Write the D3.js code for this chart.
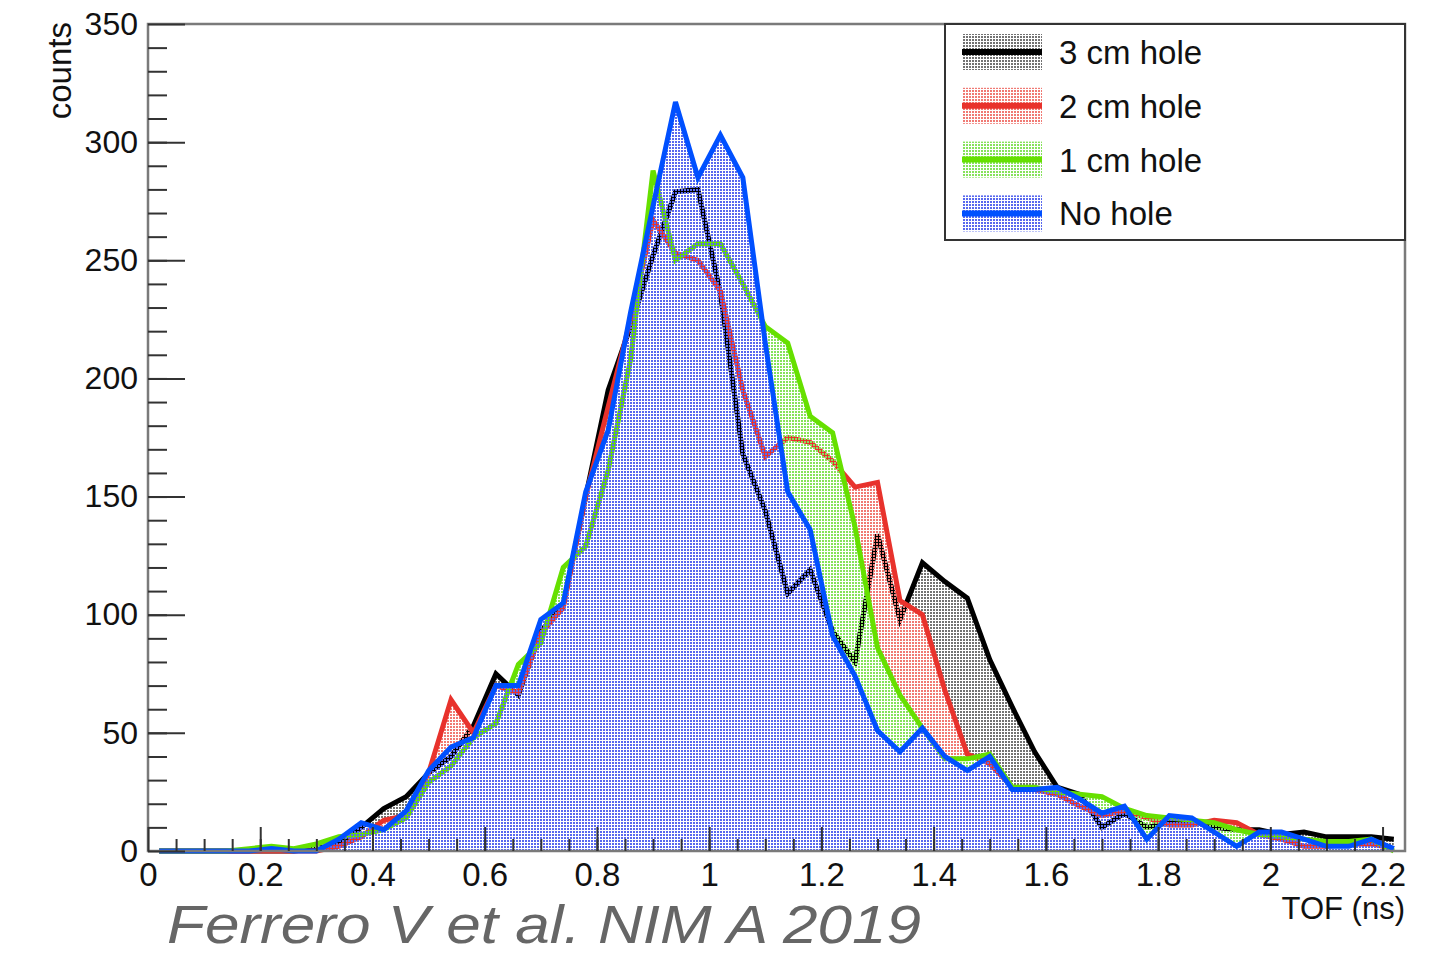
<!DOCTYPE html>
<html>
<head>
<meta charset="utf-8">
<script src="https://cdn.jsdelivr.net/npm/d3@7"></script>
<style>
  body { margin: 0; background: #fff; }
  svg text { font-family: "Liberation Sans", Arial, Helvetica, sans-serif; }
</style>
</head>
<body>
<div id="chart"></div>
<script>
// TOF bin centres (ns), bin width 0.04
const tofBins = [0.02, 0.06, 0.10, 0.14, 0.18, 0.22, 0.26, 0.30, 0.34, 0.38,
  0.42, 0.46, 0.50, 0.54, 0.58, 0.62, 0.66, 0.70, 0.74, 0.78,
  0.82, 0.86, 0.90, 0.94, 0.98, 1.02, 1.06, 1.10, 1.14, 1.18,
  1.22, 1.26, 1.30, 1.34, 1.38, 1.42, 1.46, 1.50, 1.54, 1.58,
  1.62, 1.66, 1.70, 1.74, 1.78, 1.82, 1.86, 1.90, 1.94, 1.98,
  2.02, 2.06, 2.10, 2.14, 2.18, 2.22];

// counts per bin
const hole3cm = [0, 0, 0, 0, 0, 0, 0, 1, 3, 10,
  18, 23, 33, 40, 53, 75, 66, 93, 104, 150,
  195, 222, 252, 279, 280, 236, 168, 144, 109, 119,
  93, 80, 134, 98, 122, 114, 107, 81, 61, 42,
  27, 24, 10, 16, 10, 12, 13, 10, 9, 9,
  7, 8, 6, 6, 6, 5];

const hole2cm = [0, 0, 0, 0, 0, 0, 0, 0, 2, 6,
  13, 15, 33, 64, 50, 70, 67, 92, 103, 150,
  188, 225, 267, 253, 250, 237, 195, 167, 175, 173,
  165, 154, 156, 106, 100, 68, 41, 37, 27, 26,
  24, 19, 15, 17, 14, 11, 11, 13, 12, 7,
  5, 2, 2, 3, 3, 1];

const hole1cm = [0, 0, 0, 0, 1, 2, 1, 3, 6, 7,
  9, 14, 29, 36, 48, 54, 79, 88, 120, 129,
  161, 208, 288, 250, 257, 257, 240, 222, 215, 184,
  177, 137, 86, 66, 52, 39, 39, 41, 27, 27,
  25, 24, 23, 18, 15, 14, 13, 12, 9, 7,
  6, 5, 4, 4, 5, 0];

const noHole = [0, 0, 0, 0, 0, 1, 0, 0, 5, 12,
  9, 17, 34, 44, 48, 70, 70, 98, 105, 152,
  178, 228, 273, 317, 285, 303, 285, 215, 152, 136,
  91, 74, 51, 42, 52, 40, 34, 40, 26, 26,
  27, 22, 16, 19, 5, 15, 14, 8, 2, 8,
  8, 5, 2, 2, 5, 1];

const seriesNames = ['3 cm hole', '2 cm hole', '1 cm hole', 'No hole'];
const xTickValues = [0, 0.2, 0.4, 0.6, 0.8, 1, 1.2, 1.4, 1.6, 1.8, 2, 2.2];
const yTickValues = [0, 50, 100, 150, 200, 250, 300, 350];

const width = 1430;
const height = 954;
const marginTop = 24;
const marginRight = 25;
const marginBottom = 103;
const marginLeft = 148;

const series = [
  { name: seriesNames[0], values: hole3cm, line: '#000000', dot: '#727272', id: 'pat-black' },
  { name: seriesNames[1], values: hole2cm, line: '#e8322c', dot: '#f07a74', id: 'pat-red' },
  { name: seriesNames[2], values: hole1cm, line: '#66e000', dot: '#86e25a', id: 'pat-green' },
  { name: seriesNames[3], values: noHole, line: '#0050ff', dot: '#5868ee', id: 'pat-blue' }
];

const x = d3.scaleLinear()
  .domain([0, 2.24])
  .range([marginLeft, width - marginRight]);

const y = d3.scaleLinear()
  .domain([0, 350])
  .range([height - marginBottom, marginTop]);

const svg = d3.select('#chart')
  .append('svg')
  .attr('width', width)
  .attr('height', height);

// Dotted fill patterns (same grid for all, so overlaps look like the top one)
const defs = svg.append('defs');
series.forEach(s => {
  const p = defs.append('pattern')
    .attr('id', s.id)
    .attr('patternUnits', 'userSpaceOnUse')
    .attr('width', 3)
    .attr('height', 3);
  p.append('rect')
    .attr('width', 2)
    .attr('height', 2)
    .attr('fill', s.dot);
});

// Histograms, drawn in order like ROOT "same"
const area = d3.area()
  .x((d, i) => x(tofBins[i]))
  .y0(y(0))
  .y1(d => y(d));

const line = d3.line()
  .x((d, i) => x(tofBins[i]))
  .y(d => y(d));

series.forEach(s => {
  svg.append('path')
    .attr('d', area(s.values))
    .attr('fill', `url(#${s.id})`);
  svg.append('path')
    .attr('d', line(s.values))
    .attr('fill', 'none')
    .attr('stroke', s.line)
    .attr('stroke-width', 5)
    .attr('stroke-linejoin', 'miter');
});

// Frame
svg.append('rect')
  .attr('x', x(0))
  .attr('y', y(350))
  .attr('width', x(2.24) - x(0))
  .attr('height', y(0) - y(350))
  .attr('fill', 'none')
  .attr('stroke', '#7a7a7a')
  .attr('stroke-width', 2.5);

// Add X axis (ticks pointing inside)
const xAxis = svg.append('g')
  .attr('transform', `translate(0,${y(0)})`)
  .call(d3.axisBottom(x).tickValues(xTickValues).tickSize(-24).tickPadding(12).tickFormat(d3.format('~g')));
xAxis.select('.domain').remove();

svg.append('g')
  .attr('transform', `translate(0,${y(0)})`)
  .call(d3.axisBottom(x).tickValues(d3.range(0.05, 2.24, 0.05)).tickSize(-12).tickFormat(''))
  .select('.domain').remove();

// Add Y axis
const yAxis = svg.append('g')
  .attr('transform', `translate(${x(0)},0)`)
  .call(d3.axisLeft(y).tickValues(yTickValues).tickSize(-37).tickPadding(10));
yAxis.select('.domain').remove();

svg.append('g')
  .attr('transform', `translate(${x(0)},0)`)
  .call(d3.axisLeft(y).tickValues(d3.range(10, 350, 10)).tickSize(-19).tickFormat(''))
  .select('.domain').remove();

svg.selectAll('.tick line')
  .attr('stroke', '#333')
  .attr('stroke-width', 2);

xAxis.selectAll('text')
  .attr('fill', '#111')
  .style('font-size', '33px');

yAxis.selectAll('text')
  .attr('fill', '#111')
  .style('font-size', '32px');

// Add X axis label
svg.append('text')
  .attr('x', width - marginRight)
  .attr('y', 919)
  .style('text-anchor', 'end')
  .style('font-size', '31px')
  .attr('fill', '#111')
  .text('TOF (ns)');

// Add Y axis label
svg.append('text')
  .attr('transform', 'rotate(-90)')
  .attr('x', -22)
  .attr('y', 71)
  .style('text-anchor', 'end')
  .style('font-size', '33px')
  .attr('fill', '#111')
  .text('counts');

// Legend
const legend = svg.append('g');
legend.append('rect')
  .attr('x', 945)
  .attr('y', 24)
  .attr('width', 460)
  .attr('height', 216)
  .attr('fill', '#fff')
  .attr('stroke', '#333')
  .attr('stroke-width', 2);

series.forEach((s, i) => {
  const cy = 52 + i * 53.8;
  legend.append('rect')
    .attr('x', 962)
    .attr('y', cy - 18)
    .attr('width', 80)
    .attr('height', 36)
    .attr('fill', `url(#${s.id})`);
  legend.append('line')
    .attr('x1', 962)
    .attr('x2', 1042)
    .attr('y1', cy)
    .attr('y2', cy)
    .attr('stroke', s.line)
    .attr('stroke-width', 6);
  legend.append('text')
    .attr('x', 1059)
    .attr('y', cy + 12)
    .style('font-size', '33px')
    .attr('fill', '#111')
    .text(s.name);
});

// Citation
svg.append('text')
  .attr('x', 167)
  .attr('y', 942.5)
  .attr('textLength', 754)
  .attr('lengthAdjust', 'spacingAndGlyphs')
  .style('font-size', '53px')
  .style('font-style', 'italic')
  .attr('fill', '#666')
  .text('Ferrero V et al. NIM A 2019');
</script>
</body>
</html>
